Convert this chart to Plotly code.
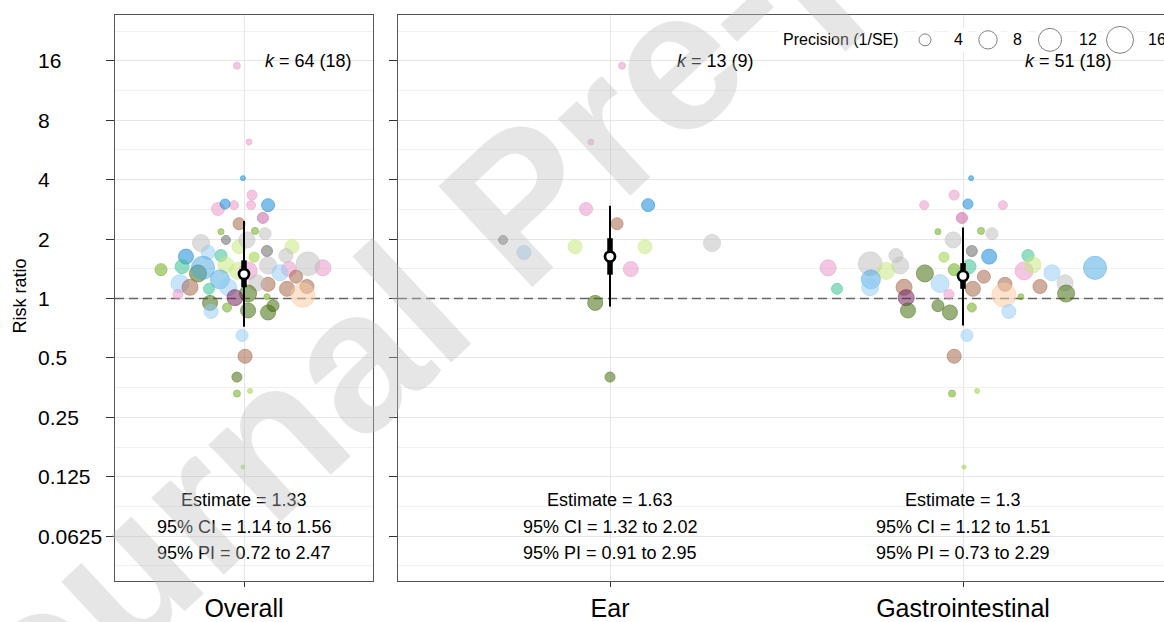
import math
import plotly.graph_objects as go

# ---------------- data ----------------
tick_vals = [0.0625, 0.125, 0.25, 0.5, 1, 2, 4, 8, 16]
tick_labels = ["0.0625", "0.125", "0.25", "0.5", "1", "2", "4", "8", "16"]
minor_vals = [2 ** (k + 0.5) for k in range(-5, 5)]

panel_names = ["Overall", "Ear", "Gastrointestinal"]
pooled_est = [1.33, 1.63, 1.30]
ci_lo = [1.14, 1.32, 1.12]
ci_hi = [1.56, 2.02, 1.51]
pi_lo = [0.72, 0.91, 0.73]
pi_hi = [2.47, 2.95, 2.29]
k_effects = [64, 13, 51]
k_studies = [18, 9, 18]

# base colours of the study groups (drawn with alpha)
group_colors = {
    "pink": (234, 148, 198),
    "blue": (12, 134, 216),
    "lightblue": (148, 205, 248),
    "sky": (76, 169, 226),
    "teal": (48, 191, 148),
    "darkgreen": (62, 105, 5),
    "green": (105, 169, 19),
    "yellowgreen": (150, 210, 60),
    "lime": (198, 234, 126),
    "gray": (191, 191, 191),
    "darkgray": (98, 98, 98),
    "brown": (162, 98, 69),
    "peach": (251, 202, 162),
    "mauve": (198, 91, 155),
    "purple": (112, 26, 84),
}

# Ear subgroup (13 effect sizes)
ear_rr = [15.1, 6.2, 2.84, 2.97, 2.39, 1.98, 1.71, 1.83, 1.83, 1.91, 1.41, 0.95, 0.40]
ear_prec = [2.36, 2.05, 5.07, 5.07, 4.51, 3.10, 5.66, 5.66, 5.66, 7.69, 6.30, 6.30, 3.53]
ear_group = ["pink", "pink", "pink", "blue", "brown", "darkgray", "lightblue", "lime",
             "lime", "gray", "pink", "darkgreen", "darkgreen"]
ear_jit_sub = [0.034, -0.054, -0.068, 0.108, 0.020, -0.303, -0.244, -0.099, 0.099,
               0.289, 0.059, -0.042, 0.000]
ear_jit_all = [-0.033, 0.023, -0.121, 0.112, -0.023, -0.084, -0.167, -0.023, 0.223,
               -0.200, 0.209, -0.158, -0.033]

# Gastrointestinal subgroup (51 effect sizes)
gi_rr = [4.07, 3.34, 2.97, 3.01, 2.97, 2.56, 2.18, 2.20, 2.13, 1.98, 1.74, 1.63, 1.62,
         1.65, 1.43, 1.50, 1.65, 1.47, 1.38, 1.34, 1.40, 1.45, 1.38, 1.48, 1.35, 1.43,
         1.25, 1.14, 1.19, 1.29, 1.14, 1.12, 1.18, 1.15, 1.20, 1.06, 1.04, 1.01, 1.05,
         1.02, 1.12, 0.87, 0.92, 0.85, 0.90, 0.86, 0.65, 0.51, 0.33, 0.34, 0.14]
gi_prec = [1.78, 3.53, 3.10, 3.53, 3.10, 4.00, 2.05, 2.36, 4.51, 6.97, 4.00, 6.30, 3.53,
           4.51, 6.97, 13.5, 5.66, 7.69, 7.69, 7.69, 4.51, 5.66, 8.45, 6.97, 6.97, 12.9,
           9.25, 7.69, 8.45, 5.07, 6.97, 6.30, 5.66, 5.66, 6.97, 7.69, 13.9, 6.97, 3.53,
           2.05, 4.00, 6.30, 4.51, 6.30, 3.10, 5.66, 4.51, 5.66, 2.36, 1.78, 1.57]
gi_group = ["blue", "pink", "pink", "blue", "pink", "mauve", "green", "green", "gray",
            "gray", "darkgray", "blue", "yellowgreen", "teal", "pink", "gray", "gray",
            "gray", "lime", "darkgreen", "green", "teal", "pink", "lime", "lightblue",
            "sky", "sky", "lightblue", "lightblue", "brown", "brown", "brown", "brown",
            "brown", "gray", "darkgreen", "peach", "purple", "pink", "green", "teal",
            "darkgreen", "darkgreen", "darkgreen", "green", "lightblue", "lightblue",
            "brown", "green", "yellowgreen", "yellowgreen"]
gi_jit_sub = [0.023, -0.025, -0.110, 0.014, 0.113, -0.003, -0.071, 0.051, 0.082, -0.028,
              0.025, 0.074, -0.054, 0.184, -0.382, -0.263, -0.190, -0.178, -0.218, -0.108,
              -0.025, 0.017, 0.173, 0.198, 0.252, 0.374, -0.261, -0.263, -0.065, 0.059,
              -0.167, 0.028, 0.119, 0.218, 0.289, 0.292, 0.116, -0.161, -0.040, 0.164,
              -0.357, -0.156, -0.071, -0.037, 0.025, 0.130, 0.011, -0.025, -0.031, 0.040,
              0.003]
gi_jit_all = [-0.005, 0.037, -0.047, -0.088, 0.033, 0.088, -0.107, 0.051, 0.098, 0.014,
              0.107, -0.270, 0.047, -0.107, 0.367, 0.298, 0.195, 0.112, -0.028, -0.214,
              -0.386, -0.288, 0.019, -0.084, 0.167, -0.191, -0.112, -0.074, -0.298, 0.242,
              -0.251, 0.200, 0.112, 0.293, 0.060, 0.019, 0.274, -0.042, -0.307, 0.107,
              -0.163, 0.019, 0.135, 0.112, -0.079, -0.153, -0.009, 0.005, -0.033, 0.028,
              -0.005]

legend_prec = [4, 8, 12, 16]

# ---------------- layout helpers ----------------
W, H = 1164, 622
ML, MR, MT, MB = 115, 0, 15, 38
PW, PH = W - ML - MR, H - MT - MB
FONT = "Liberation Sans, Arial, Helvetica, sans-serif"
ALPHA = 0.74
X1_RANGE = [-0.6, 0.6]
X2_RANGE = [-0.6006, 1.5694]


def px_x(px):
    return (px - ML) / PW


def px_y(py):
    return 1 - (py - MT) / PH


def diam(p):
    return math.sqrt(max(48.75 * p - 51.0, 16.0))


def rgba(c, a):
    return "rgba(%d,%d,%d,%.2f)" % (c[0], c[1], c[2], a)


fig = go.Figure()

# dashed reference line at RR = 1 (drawn first, under the points)
for xr, xa, ya in [(X1_RANGE, "x", "y"), (X2_RANGE, "x2", "y2")]:
    fig.add_trace(go.Scatter(x=xr, y=[1, 1], mode="lines", xaxis=xa, yaxis=ya,
                             showlegend=False, hoverinfo="skip",
                             line=dict(color="#666666", width=1.4, dash="9px,5px")))


def add_points(xs, rr, prec, groups, xa, ya):
    fig.add_trace(go.Scatter(
        x=xs, y=rr, mode="markers", xaxis=xa, yaxis=ya, showlegend=False,
        hoverinfo="skip",
        marker=dict(
            size=[diam(p) - 1 for p in prec],
            color=[rgba(group_colors[g], ALPHA) for g in groups],
            line=dict(width=1, color=[rgba(group_colors[g], 0.85) for g in groups]),
        ),
    ))


# Overall panel: every effect size, category position 0
all_rr = ear_rr + gi_rr
all_prec = ear_prec + gi_prec
all_group = ear_group + gi_group
all_x = [0 + j for j in ear_jit_all + gi_jit_all]
add_points(all_x, all_rr, all_prec, all_group, "x", "y")

# Subgroup panel: Ear at 0, Gastrointestinal at 1
sub_x = [0 + j for j in ear_jit_sub] + [1 + j for j in gi_jit_sub]
add_points(sub_x, all_rr, all_prec, all_group, "x2", "y2")

# pooled estimates
pooled_pos = [(0, "x", "y"), (0, "x2", "y2"), (1, "x2", "y2")]
for i, (cx, xa, ya) in enumerate(pooled_pos):
    fig.add_trace(go.Scatter(x=[cx, cx], y=[pi_lo[i], pi_hi[i]], mode="lines",
                             xaxis=xa, yaxis=ya, showlegend=False, hoverinfo="skip",
                             line=dict(color="black", width=2)))
    fig.add_trace(go.Scatter(x=[cx, cx], y=[ci_lo[i], ci_hi[i]], mode="lines",
                             xaxis=xa, yaxis=ya, showlegend=False, hoverinfo="skip",
                             line=dict(color="black", width=5.5)))
    fig.add_trace(go.Scatter(x=[cx], y=[pooled_est[i]], mode="markers",
                             xaxis=xa, yaxis=ya, showlegend=False, hoverinfo="skip",
                             marker=dict(size=10, color="white",
                                         line=dict(color="black", width=2.7))))

# ---------------- axes ----------------
yrange = [math.log10(2 ** -4.753), math.log10(2 ** 4.770)]
grid_major = "#E6E6E6"
grid_minor = "#F0F0F0"
frame = "#555555"

ycommon = dict(
    type="log", range=yrange, tickvals=tick_vals, showticklabels=False,
    ticks="outside", ticklen=8, tickcolor="#333333", tickwidth=1,
    showgrid=True, gridcolor=grid_major, gridwidth=1.3, zeroline=False,
    minor=dict(tickvals=minor_vals, showgrid=True, gridcolor=grid_minor,
               gridwidth=1, ticks=""),
    showline=True, linecolor=frame, linewidth=1, domain=[0, 1],
)
xcommon = dict(
    showgrid=True, gridcolor=grid_major, gridwidth=1.3, zeroline=False,
    showline=True, mirror=True, linecolor=frame, linewidth=1,
    ticks="outside", ticklen=5, tickcolor="#333333",
    tickfont=dict(size=25, color="black", family=FONT),
)

fig.update_layout(
    xaxis=dict(xcommon, domain=[0, px_x(373)], range=X1_RANGE,
               tickvals=[0], ticktext=[panel_names[0]], anchor="y"),
    yaxis=dict(ycommon, mirror=True, anchor="x"),
    xaxis2=dict(xcommon, domain=[px_x(398), 1], range=X2_RANGE,
                tickvals=[0, 1], ticktext=panel_names[1:], anchor="y2"),
    yaxis2=dict(ycommon, mirror=False, anchor="x2", matches="y"),
)

shapes = []
annotations = []

# y tick labels (left aligned) and axis title
for v, lab in zip(tick_vals, tick_labels):
    annotations.append(dict(text=lab, xref="paper", yref="y", x=px_x(36),
                            y=math.log10(v), xanchor="left", yanchor="middle",
                            showarrow=False,
                            font=dict(size=21, color="black", family=FONT)))
annotations.append(dict(text="Risk ratio", xref="paper", yref="paper", x=px_x(20),
                        y=px_y(298), textangle=-90, showarrow=False,
                        xanchor="center", yanchor="middle",
                        font=dict(size=18, color="black", family=FONT)))

# k labels and summary text
for i, (cx, xa, ya) in enumerate(pooled_pos):
    annotations.append(dict(text="<i>k</i> = %d (%d)" % (k_effects[i], k_studies[i]),
                            xref=xa, yref=ya, x=cx + 0.3, y=math.log10(16),
                            xanchor="center", yanchor="middle", showarrow=False,
                            font=dict(size=18, color="black", family=FONT)))
    lines = ["Estimate = %g" % pooled_est[i],
             "95%% CI = %g to %g" % (ci_lo[i], ci_hi[i]),
             "95%% PI = %g to %g" % (pi_lo[i], pi_hi[i])]
    for j, t in enumerate(lines):
        annotations.append(dict(text=t, xref=xa, yref="paper", x=cx,
                                y=px_y(503 + 26.5 * j), xanchor="center",
                                yanchor="middle", showarrow=False,
                                font=dict(size=18, color="black", family=FONT)))

# size legend
leg_cy = 40
leg_cx = [925, 988, 1050, 1120]
leg_lx = [958, 1017, 1088, 1157]
shapes.append(dict(type="rect", xref="paper", yref="paper", x0=px_x(778), x1=px_x(903),
                   y0=px_y(52), y1=px_y(28), fillcolor="white", line=dict(width=0),
                   layer="above"))
for p, cx, lx in zip(legend_prec, leg_cx, leg_lx):
    r = diam(p) / 2
    shapes.append(dict(type="rect", xref="paper", yref="paper",
                       x0=px_x(cx - r - 3), x1=px_x(cx + r + 3),
                       y0=px_y(53), y1=px_y(27), fillcolor="white",
                       line=dict(width=0), layer="above"))
    shapes.append(dict(type="rect", xref="paper", yref="paper",
                       x0=px_x(lx - 10), x1=px_x(lx + 10),
                       y0=px_y(52), y1=px_y(28), fillcolor="white",
                       line=dict(width=0), layer="above"))
for p, cx in zip(legend_prec, leg_cx):
    r = diam(p) / 2
    shapes.append(dict(type="circle", xref="paper", yref="paper",
                       x0=px_x(cx - r), x1=px_x(cx + r),
                       y0=px_y(leg_cy + r), y1=px_y(leg_cy - r), fillcolor="white",
                       line=dict(color="#808080", width=1), layer="above"))
annotations.append(dict(text="Precision (1/SE)", xref="paper", yref="paper",
                        x=px_x(781), y=px_y(leg_cy), xanchor="left", yanchor="middle",
                        showarrow=False, font=dict(size=16, color="black", family=FONT)))
for p, lx in zip(legend_prec, leg_lx):
    annotations.append(dict(text=str(p), xref="paper", yref="paper", x=px_x(lx),
                            y=px_y(leg_cy), xanchor="center", yanchor="middle",
                            showarrow=False,
                            font=dict(size=16, color="black", family=FONT)))

# watermark
annotations.append(dict(text="<b>Journal Pre-proof</b>", xref="paper", yref="paper",
                        x=px_x(520), y=px_y(205), xanchor="center", yanchor="middle",
                        textangle=-43, showarrow=False,
                        font=dict(size=200, color="rgba(190,190,190,0.38)",
                                  family=FONT)))

fig.update_layout(
    width=W, height=H, margin=dict(l=ML, r=MR, t=MT, b=MB),
    paper_bgcolor="white", plot_bgcolor="white", showlegend=False,
    shapes=shapes, annotations=annotations,
    font=dict(family=FONT, color="black"),
)

fig.write_html("out.html", config={"displayModeBar": False},
               post_script="document.body.style.margin='0';"
                           "document.body.style.overflow='hidden';")
